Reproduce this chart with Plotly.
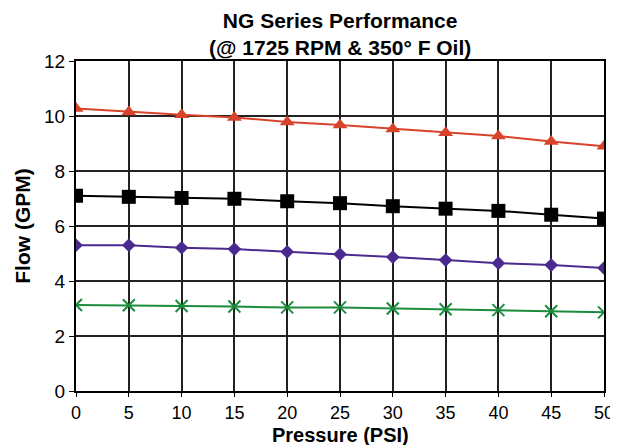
import plotly.graph_objects as go

pressure = [0, 5, 10, 15, 20, 25, 30, 35, 40, 45, 50]
flow_red = [10.27, 10.15, 10.05, 9.95, 9.78, 9.67, 9.53, 9.39, 9.27, 9.07, 8.9]
flow_black = [7.1, 7.06, 7.02, 6.99, 6.9, 6.83, 6.72, 6.63, 6.55, 6.41, 6.27]
flow_purple = [5.3, 5.3, 5.21, 5.16, 5.06, 4.97, 4.87, 4.76, 4.65, 4.58, 4.47]
flow_green = [3.13, 3.12, 3.09, 3.07, 3.04, 3.04, 3.0, 2.97, 2.94, 2.9, 2.86]

fig = go.Figure()
fig.add_trace(go.Scatter(x=pressure, y=flow_red, mode="lines+markers",
                         line=dict(color="#d8432b", width=2),
                         marker=dict(symbol="triangle-up", size=13, color="#d8432b")))
fig.add_trace(go.Scatter(x=pressure, y=flow_black, mode="lines+markers",
                         line=dict(color="#000000", width=2),
                         marker=dict(symbol="square", size=14, color="#000000")))
fig.add_trace(go.Scatter(x=pressure, y=flow_purple, mode="lines+markers",
                         line=dict(color="#4a2a8e", width=2),
                         marker=dict(symbol="diamond", size=10.5, color="#4a2a8e")))
fig.add_trace(go.Scatter(x=pressure, y=flow_green, mode="lines+markers",
                         line=dict(color="#1a8c3c", width=2),
                         marker=dict(symbol="x-thin", size=12, color="#1a8c3c",
                                     line=dict(color="#1a8c3c", width=2))))

font_family = "Liberation Sans, Arial, sans-serif"
fig.update_layout(
    width=610, height=437,
    margin=dict(l=68, r=14, t=53, b=54, autoexpand=False),
    paper_bgcolor="white", plot_bgcolor="white",
    showlegend=False,
    font=dict(family=font_family, color="black"),
    xaxis=dict(range=[0, 50], tickmode="array", tickvals=pressure,
               showgrid=True, gridcolor="#222222", gridwidth=1.5,
               showline=True, linecolor="black", linewidth=2, mirror=True,
               ticks="outside", ticklen=4, tickcolor="black",
               tickfont=dict(size=18), zeroline=False, automargin=False),
    yaxis=dict(range=[0, 12], tickmode="array", tickvals=[0, 2, 4, 6, 8, 10, 12],
               showgrid=True, gridcolor="#222222", gridwidth=1.5,
               showline=True, linecolor="black", linewidth=2, mirror=True,
               ticks="outside", ticklen=5, tickcolor="black",
               tickfont=dict(size=19), zeroline=False, automargin=False,
               title=dict(text="<b>Flow (GPM)</b>", font=dict(size=21), standoff=8)),
    annotations=[
        dict(text="<b>NG Series Performance<br>(@ 1725 RPM & 350° F Oil)</b>",
             xref="paper", yref="paper", x=0.5, y=1.0827, xanchor="center",
             yanchor="middle", showarrow=False,
             font=dict(size=21, family=font_family, color="black")),
        dict(text="<b>Pressure (PSI)</b>",
             xref="paper", yref="paper", x=0.5, y=0, xanchor="center",
             yanchor="middle", yshift=-44, showarrow=False,
             font=dict(size=20, family=font_family, color="black")),
    ],
)

fig.write_html("out.html")
